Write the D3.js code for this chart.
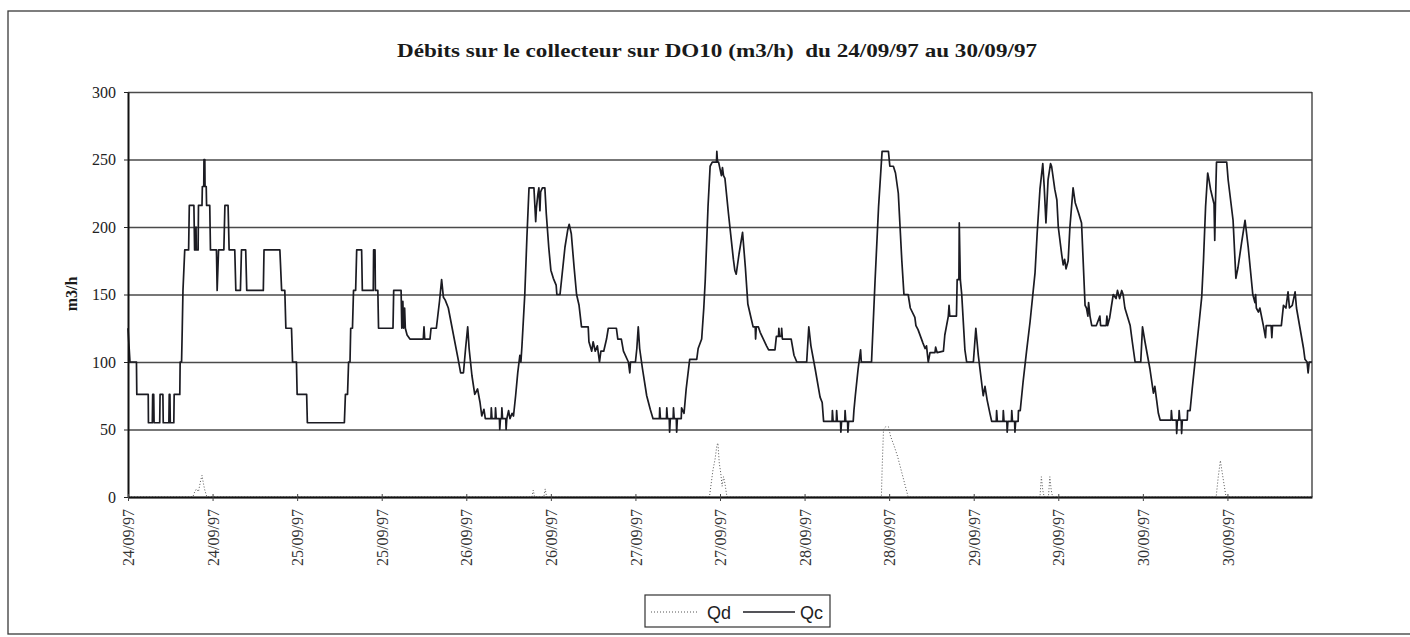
<!DOCTYPE html>
<html>
<head>
<meta charset="utf-8">
<script src="https://cdn.jsdelivr.net/npm/d3@7"></script>
<style>
body { margin: 0; background: #fff; }
svg { display: block; }
</style>
</head>
<body>
<div id="chart"></div>
<script>
var titleText = "Débits sur le collecteur sur DO10 (m3/h)  du 24/09/97 au 30/09/97";
var yTitle = "m3/h";
var yTicks = [0, 50, 100, 150, 200, 250, 300];
// ticks every 12 hours from 24/09/97 00:00
var tickHours = [0, 12, 24, 36, 48, 60, 72, 84, 96, 108, 120, 132, 144, 156];
var legendNames = ["Qd", "Qc"];

// Qc : [hours since 24/09/97 00:00, m3/h]
var qcDay24 = [[0,125],[0.28,100],[1.2,100],[1.25,76],[2.87,76],[2.9,55],[3.45,55],[3.5,76],[3.65,76],[3.7,55],
  [4.5,55],[4.55,76],[4.95,76],[5.0,55],[5.8,55],[5.85,76],[5.95,76],[6.0,55],[6.5,55],[6.55,76],[7.35,76],
  [7.4,100],[7.6,100],[7.7,125],[7.8,153],[8.05,183],[8.6,183],[8.7,216],[9.35,216],[9.45,183],[9.6,183],
  [9.65,200],[9.7,183],[9.95,183],[10.0,216],[10.5,216],[10.55,230],[10.75,230],[10.78,250],[10.9,250],
  [10.93,230],[11.1,230],[11.15,216],[11.6,216],[11.7,183],[12.55,183],[12.65,153],[12.85,183],[13.6,183],
  [13.75,216],[14.2,216],[14.35,183],[15.15,183],[15.3,153],[15.95,153],[16.1,183],[16.7,183],[16.85,153],
  [19.2,153],[19.3,183],[21.55,183],[21.8,153],[22.25,153],[22.4,125],[23.2,125],[23.35,100],[23.9,100],[24.0,76]];
var qcDay25 = [[25.35,76],[25.45,55],[30.7,55],[30.85,76],[31.15,76],[31.3,100],[31.5,100],[31.6,125],[31.85,125],
  [32.0,153],[32.3,153],[32.45,183],[33.15,183],[33.25,153],[34.8,153],[34.85,183],[35.05,183],[35.1,153],
  [35.45,153],[35.55,125],[37.6,125],[37.7,153],[38.75,153],[38.85,125],[39.0,145],[39.1,125],[39.25,140],
  [39.35,125],[39.6,120],[40.0,117],[41.9,117],[42.0,126],[42.1,117],[42.85,117],[43.0,125],[43.75,125],
  [44.2,145],[44.5,161],[44.75,148],[45.0,146],[45.45,140],[46.0,125],[46.85,102],[47.2,92],[47.6,92]];
var qcDay26 = [[47.9,110],[48.2,126],[48.4,110],[48.8,90],[49.2,76],[49.6,80],[49.95,70],[50.2,60],[50.5,65],
  [50.7,58],[51.5,58],[51.55,66],[51.65,58],[52.1,58],[52.15,66],[52.25,58],[52.7,58],[52.75,50],[52.85,58],
  [53.0,58],[53.05,66],[53.15,58],[53.6,58],[53.65,50],[53.75,58],[54.0,64],[54.2,58],[54.5,62],[54.7,60],
  [55.0,75],[55.3,92],[55.6,105],[55.75,100],[55.9,112],[56.3,150],[56.6,192],[56.9,229],[57.6,229],
  [57.75,214],[57.85,204],[57.95,214],[58.15,224],[58.3,229],[58.45,212],[58.55,226],[58.8,229],[59.15,229],
  [59.35,210],[59.7,185],[60.0,168],[60.35,162],[60.75,157],[60.85,150],[61.3,150],[61.6,165],[62.0,185],
  [62.4,198],[62.6,202],[62.9,195],[63.3,170],[63.65,150],[64.0,142],[64.35,126],[65.3,126],[65.4,115],
  [65.8,108],[66.0,115],[66.3,108],[66.6,112],[66.9,100],[67.1,108],[67.5,108],[67.9,117],[68.15,125],
  [69.3,125],[69.5,117],[70.0,117],[70.3,108],[71.0,100],[71.2,92],[71.3,100],[72.0,100]];
var qcDay27 = [[72.2,110],[72.4,126],[72.6,110],[73.0,95],[73.6,75],[74.1,65],[74.5,58],[75.4,58],[75.45,66],
  [75.55,58],[76.4,58],[76.45,66],[76.55,58],[76.8,58],[76.85,48],[76.95,58],[77.35,58],[77.4,66],[77.5,58],
  [77.8,58],[77.85,48],[77.95,58],[78.5,58],[78.55,66],[78.9,62],[79.2,80],[79.7,102],[80.7,102],[80.9,110],
  [81.4,117],[81.7,140],[81.9,160],[82.3,215],[82.6,245],[82.9,248],[83.5,248],[83.55,256],[83.65,248],
  [83.8,248],[84.2,238],[84.35,244],[84.5,238],[84.7,236],[85.2,210],[85.9,176],[86.1,168],[86.3,165],
  [86.7,180],[87.2,196],[87.6,170],[87.95,143],[88.3,135],[88.7,126],[89.0,126],[89.05,117],[89.15,126],
  [89.45,126],[89.7,122],[90.6,112],[90.9,109],[91.8,109],[92.0,119],[92.3,119],[92.35,125],[92.45,119],
  [92.7,119],[92.75,125],[92.85,117],[94.1,117],[94.5,105],[94.9,100],[96.0,100]];
var qcDay28 = [[96.3,100],[96.6,126],[96.9,112],[97.5,95],[98.2,74],[98.5,70],[98.7,56],[99.9,56],[99.95,64],
  [100.05,56],[100.5,56],[100.55,64],[100.65,56],[101.1,56],[101.15,48],[101.25,56],[101.7,56],[101.75,64],
  [101.85,56],[102.1,56],[102.15,48],[102.25,56],[102.9,56],[103.0,64],[103.2,75],[103.6,95],[103.95,109],
  [104.05,100],[105.5,100],[106.0,160],[106.5,215],[106.9,248],[107.0,256],[107.9,256],[108.1,245],
  [108.6,245],[108.9,240],[109.3,225],[109.8,175],[110.1,150],[110.7,150],[111.0,140],[111.65,133],
  [111.8,127],[112.1,124],[112.8,114],[113.1,110],[113.3,112],[113.55,100],[113.8,107],[114.5,107],
  [114.6,111],[114.8,107],[115.7,108],[115.9,120],[116.4,134],[116.5,142],[116.6,134],[117.55,134],
  [117.65,161],[117.9,161],[117.95,203],[118.1,161],[118.3,150],[118.75,109],[119.0,100],[119.95,100]];
var qcDay29 = [[120.3,125],[120.65,105],[121.35,75],[121.6,82],[121.9,72],[122.3,62],[122.55,56],[123.2,56],
  [123.25,64],[123.35,56],[124.15,56],[124.2,64],[124.3,56],[124.7,56],[124.75,48],[124.85,56],[125.35,56],
  [125.4,64],[125.5,56],[125.8,56],[125.85,48],[125.95,56],[126.3,56],[126.35,64],[126.6,64],[127.0,85],
  [127.5,108],[128.0,130],[128.7,166],[129.0,195],[129.4,228],[129.8,247],[130.0,230],[130.25,203],
  [130.55,235],[130.9,247],[131.05,245],[131.5,228],[131.8,220],[132.0,200],[132.5,179],[132.7,172],
  [132.9,176],[133.1,169],[133.4,175],[133.65,200],[134.1,229],[134.4,218],[134.9,210],[135.3,203],
  [135.8,142],[136.0,140],[136.2,134],[136.3,144],[136.5,134],[136.75,127],[137.4,127],[137.9,134],
  [138.0,127],[138.8,127],[138.9,134],[139.0,127],[139.3,133],[139.5,140],[139.8,150],[140.2,147],
  [140.4,153],[140.7,147],[141.0,153],[141.2,150],[141.45,140],[142.2,127],[142.5,115],[142.9,100],[143.7,100]];
var qcDay30 = [[143.95,126],[144.3,115],[145.0,95],[145.5,77],[145.7,82],[145.95,72],[146.2,62],[146.45,57],
  [148.0,57],[148.05,64],[148.15,57],[148.75,57],[148.8,47],[148.9,57],[149.1,57],[149.15,64],[149.25,57],
  [149.45,57],[149.5,47],[149.6,57],[150.3,57],[150.35,64],[150.7,64],[151.0,80],[151.5,105],[152.0,130],
  [152.35,148],[152.6,175],[152.9,215],[153.2,240],[153.35,236],[153.6,228],[154.1,217],[154.2,190],
  [154.3,217],[154.45,248],[155.9,248],[156.1,235],[156.8,205],[157.2,162],[157.5,170],[158.0,188],
  [158.5,205],[158.95,185],[159.6,150],[159.9,144],[160.0,150],[160.1,140],[160.4,137],[160.6,140],
  [161.1,127],[161.4,118],[161.5,127],[162.2,127],[162.3,118],[162.4,127],[163.65,127],[163.95,142],
  [164.3,140],[164.6,152],[164.8,140],[165.2,142],[165.6,152],[165.8,140],[166.3,125],[166.8,110],
  [167.0,102],[167.3,100],[167.45,92],[167.6,100],[168,100]];

// Qd : overflow, mostly zero
var qdSeries = [[0,0],[9.2,0],[9.4,3],[9.7,6],[10.0,4],[10.3,12],[10.5,16],[10.7,10],[10.9,5],[11.2,0],
  [57.3,0],[57.5,5],[57.7,0],[59.0,0],[59.2,6],[59.4,0],
  [82.5,0],[82.7,8],[83.0,20],[83.3,28],[83.55,38],[83.7,40],[83.9,25],[84.1,18],[84.3,8],[84.5,15],[84.7,10],[84.9,3],[85.0,0],
  [106.9,0],[107.0,20],[107.2,50],[107.5,52],[107.9,52],[108.2,45],[108.7,38],[109.2,30],[109.7,20],[110.2,10],[110.7,0],
  [129.4,0],[129.6,15],[129.8,5],[130.0,0],[130.6,0],[130.8,15],[131.0,5],[131.2,0],
  [154.4,0],[154.7,15],[155.0,27],[155.2,20],[155.5,10],[155.8,0],[168,0]];

var qcSeries = qcDay24.concat(qcDay25, qcDay26, qcDay27, qcDay28, qcDay29, qcDay30);

var width = 1410, height = 637;
var margin = {left: 128, right: 98, top: 92, bottom: 140};
var serif = "'Liberation Serif', 'Times New Roman', serif";
var sans = "'Liberation Sans', Arial, sans-serif";

var start = new Date(1997, 8, 24, 0, 0);
function hoursToDate(h) { return new Date(start.getTime() + h * 3600 * 1000); }

var svg = d3.select("#chart").append("svg")
    .attr("width", width)
    .attr("height", height);

// chart area frame
svg.append("rect")
    .attr("x", 8).attr("y", 11)
    .attr("width", width + 20).attr("height", 623)
    .attr("fill", "#fff")
    .attr("stroke", "#3a3a3a")
    .attr("stroke-width", 1.3);

var x = d3.scaleTime()
    .domain([start, hoursToDate(168)])
    .range([margin.left, width - margin.right]);
var y = d3.scaleLinear()
    .domain([0, 300])
    .range([height - margin.bottom, margin.top]);

var plotW = width - margin.right - margin.left;

// gridlines
svg.append("g")
    .attr("transform", "translate(" + margin.left + ",0)")
    .call(d3.axisLeft(y).tickValues(yTicks).tickSize(-plotW).tickFormat(""))
    .call(function(g) { g.select(".domain").remove(); })
    .selectAll("line")
    .attr("stroke", "#4a4a4a")
    .attr("stroke-width", 1.3);

// right border of plot
svg.append("line")
    .attr("x1", x.range()[1]).attr("x2", x.range()[1])
    .attr("y1", y(300)).attr("y2", y(0))
    .attr("stroke", "#333").attr("stroke-width", 1.3);

var line = d3.line()
    .x(function(d) { return x(hoursToDate(d[0])); })
    .y(function(d) { return y(d[1]); });

svg.append("path")
    .datum(qdSeries)
    .attr("fill", "none")
    .attr("stroke", "#555")
    .attr("stroke-width", 1)
    .attr("stroke-dasharray", "1,2")
    .attr("d", line);

svg.append("path")
    .datum(qcSeries)
    .attr("fill", "none")
    .attr("stroke", "#1b1b22")
    .attr("stroke-width", 1.7)
    .attr("stroke-linejoin", "round")
    .attr("d", line);

// y axis
var yAxis = svg.append("g")
    .attr("transform", "translate(" + margin.left + ",0)")
    .call(d3.axisLeft(y).tickValues(yTicks).tickSizeInner(4).tickSizeOuter(0).tickPadding(8));
yAxis.select(".domain").attr("stroke", "#111").attr("stroke-width", 2);
yAxis.selectAll(".tick line").attr("stroke", "#222");
yAxis.selectAll("text")
    .style("font-family", serif)
    .style("font-size", "16px")
    .attr("fill", "#222");

// x axis
var xAxis = svg.append("g")
    .attr("transform", "translate(0," + y(0) + ")")
    .call(d3.axisBottom(x)
        .tickValues(tickHours.map(hoursToDate))
        .tickFormat(d3.timeFormat("%d/%m/%y"))
        .tickSizeInner(4).tickSizeOuter(0).tickPadding(6));
xAxis.select(".domain").attr("stroke", "#111").attr("stroke-width", 2);
xAxis.selectAll(".tick line").attr("y1", -3).attr("stroke", "#444");
xAxis.selectAll("text")
    .attr("transform", "rotate(-90)")
    .attr("x", -12)
    .attr("y", 0)
    .attr("dy", "0.35em")
    .style("text-anchor", "end")
    .style("font-family", serif)
    .style("font-size", "16px")
    .attr("fill", "#333");

// title
svg.append("text")
    .attr("x", 717)
    .attr("y", 57)
    .attr("text-anchor", "middle")
    .attr("textLength", 640)
    .attr("lengthAdjust", "spacingAndGlyphs")
    .style("white-space", "pre")
    .style("font-family", serif)
    .style("font-weight", "bold")
    .style("font-size", "19px")
    .attr("fill", "#1a1a1a")
    .text(titleText);

// y title
svg.append("text")
    .attr("transform", "translate(77,294) rotate(-90)")
    .attr("text-anchor", "middle")
    .style("font-family", serif)
    .style("font-weight", "bold")
    .style("font-size", "16px")
    .attr("fill", "#1a1a1a")
    .text(yTitle);

// legend
var legend = svg.append("g").attr("transform", "translate(645,595)");
legend.append("rect")
    .attr("width", 185).attr("height", 32)
    .attr("fill", "#fff")
    .attr("stroke", "#333").attr("stroke-width", 1.2);
legend.append("line")
    .attr("x1", 6).attr("x2", 53).attr("y1", 17).attr("y2", 17)
    .attr("stroke", "#555").attr("stroke-width", 1).attr("stroke-dasharray", "1,2");
legend.append("line")
    .attr("x1", 98).attr("x2", 150).attr("y1", 17).attr("y2", 17)
    .attr("stroke", "#1b1b22").attr("stroke-width", 1.6);
legend.selectAll(".lg")
    .data(legendNames)
    .enter()
    .append("text")
    .attr("class", "lg")
    .attr("x", function(d, i) { return i == 0 ? 62 : 155; })
    .attr("y", 24)
    .style("font-family", sans)
    .style("font-size", "18px")
    .attr("fill", "#222")
    .text(function(d) { return d; });
</script>
</body>
</html>
